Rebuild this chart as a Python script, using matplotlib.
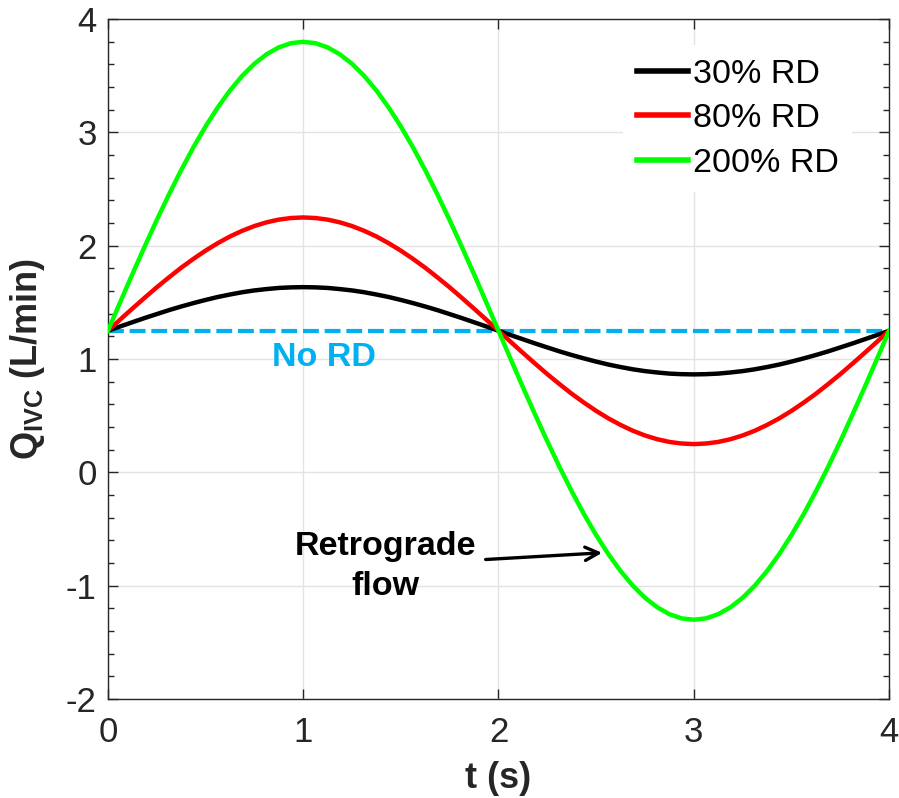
import matplotlib
matplotlib.use("Agg")
import matplotlib.pyplot as plt
from matplotlib.ticker import MultipleLocator

# values, t step 0.0625 s
t_s = [i * 0.0625 for i in range(65)]
q_30 = [1.250, 1.288, 1.325, 1.362, 1.397, 1.432, 1.464, 1.494, 1.522, 1.548,
        1.570, 1.590, 1.606, 1.618, 1.628, 1.633, 1.635, 1.633, 1.628, 1.618,
        1.606, 1.590, 1.570, 1.548, 1.522, 1.494, 1.464, 1.432, 1.397, 1.362,
        1.325, 1.288, 1.250, 1.212, 1.175, 1.138, 1.103, 1.068, 1.036, 1.006,
        0.978, 0.952, 0.930, 0.910, 0.894, 0.882, 0.872, 0.867, 0.865, 0.867,
        0.872, 0.882, 0.894, 0.910, 0.930, 0.952, 0.978, 1.006, 1.036, 1.068,
        1.103, 1.138, 1.175, 1.212, 1.250]
q_80 = [1.250, 1.348, 1.445, 1.540, 1.633, 1.721, 1.806, 1.884, 1.957, 2.023,
        2.082, 2.132, 2.174, 2.207, 2.231, 2.245, 2.250, 2.245, 2.231, 2.207,
        2.174, 2.132, 2.082, 2.023, 1.957, 1.884, 1.806, 1.721, 1.633, 1.540,
        1.445, 1.348, 1.250, 1.152, 1.055, 0.960, 0.867, 0.779, 0.694, 0.616,
        0.543, 0.477, 0.419, 0.368, 0.326, 0.293, 0.269, 0.255, 0.250, 0.255,
        0.269, 0.293, 0.326, 0.368, 0.419, 0.477, 0.543, 0.616, 0.694, 0.779,
        0.867, 0.960, 1.055, 1.152, 1.250]
q_200 = [1.250, 1.500, 1.748, 1.990, 2.226, 2.452, 2.667, 2.868, 3.053, 3.221,
         3.370, 3.499, 3.606, 3.690, 3.751, 3.788, 3.800, 3.788, 3.751, 3.690,
         3.606, 3.499, 3.370, 3.221, 3.053, 2.868, 2.667, 2.452, 2.226, 1.990,
         1.748, 1.500, 1.250, 1.000, 0.752, 0.510, 0.274, 0.048, -0.167, -0.368,
         -0.553, -0.721, -0.870, -0.999, -1.106, -1.190, -1.251, -1.288, -1.300,
         -1.288, -1.251, -1.190, -1.106, -0.999, -0.870, -0.721, -0.553, -0.368,
         -0.167, 0.048, 0.274, 0.510, 0.752, 1.000, 1.250]
q_no_rd = 1.25
labels = ["30% RD", "80% RD", "200% RD"]
colors = ["#000000", "#ff0000", "#00ff00"]

plt.rcParams["font.family"] = "Liberation Sans"
plt.rcParams["axes.unicode_minus"] = False
plt.rcParams["mathtext.fontset"] = "custom"
plt.rcParams["mathtext.rm"] = "Liberation Sans:bold"
plt.rcParams["mathtext.it"] = "Liberation Sans:bold"
plt.rcParams["mathtext.bf"] = "Liberation Sans:bold"

dark = "#262626"
fig = plt.figure(figsize=(8.99, 7.98), dpi=100)
ax = fig.add_axes([0.120, 0.124, 0.869, 0.852])

ax.grid(True, color="#e3e3e3", linewidth=1.0)
ax.set_axisbelow(True)

ax.plot([0, 4], [q_no_rd, q_no_rd], color="#00b0f0", linewidth=3.0,
        dashes=(3.8, 1.4), zorder=2)
for q, lab, c in zip([q_30, q_80, q_200], labels, colors):
    ax.plot(t_s, q, color=c, linewidth=3.2, label=lab, zorder=3,
            solid_joinstyle="round")

ax.set_xlim(0, 4)
ax.set_ylim(-2, 4)
ax.xaxis.set_major_locator(MultipleLocator(1))
ax.yaxis.set_major_locator(MultipleLocator(1))
ax.yaxis.set_minor_locator(MultipleLocator(0.2))
ax.tick_params(axis="both", which="both", direction="in", top=True, right=True,
               colors=dark, labelsize=25, width=1.0)
ax.tick_params(axis="both", which="major", length=7)
ax.tick_params(axis="x", which="major", pad=12)
ax.tick_params(axis="y", which="major", pad=8)
ax.tick_params(axis="y", which="minor", length=4)
for sp in ax.spines.values():
    sp.set_color(dark)
    sp.set_linewidth(1.0)

ax.set_xlabel("t (s)", fontsize=26, fontweight="bold", color=dark)
ax.xaxis.set_label_coords(0.5, -0.091)
ax.set_ylabel(r"Q$_{\mathrm{IVC}}$ (L/min)", fontsize=26, fontweight="bold",
              color=dark)
ax.yaxis.set_label_coords(-0.078, 0.5)

ax.text(1.106, 1.01, "No RD", color="#00b0f0", fontsize=24.5, fontweight="bold",
        ha="center", va="center")
ax.annotate("", xy=(2.545, -0.708), xytext=(1.92, -0.77),
            arrowprops=dict(arrowstyle="->", color="black", lw=2.4,
                            mutation_scale=24))
ax.text(1.42, -0.83, "Retrograde\nflow", fontsize=24.5, fontweight="bold",
        ha="center", va="center", linespacing=1.35)

leg = ax.legend(loc="upper right", bbox_to_anchor=(0.953, 0.962), fontsize=24.5,
                frameon=True, handlelength=1.5, handletextpad=0.15,
                labelspacing=0.4, borderaxespad=0.0, fancybox=False)
leg.get_frame().set_edgecolor("none")
leg.get_frame().set_facecolor("white")
leg.get_frame().set_alpha(1.0)
for line in leg.get_lines():
    line.set_linewidth(4.0)

fig.savefig("out.png", dpi=100)
